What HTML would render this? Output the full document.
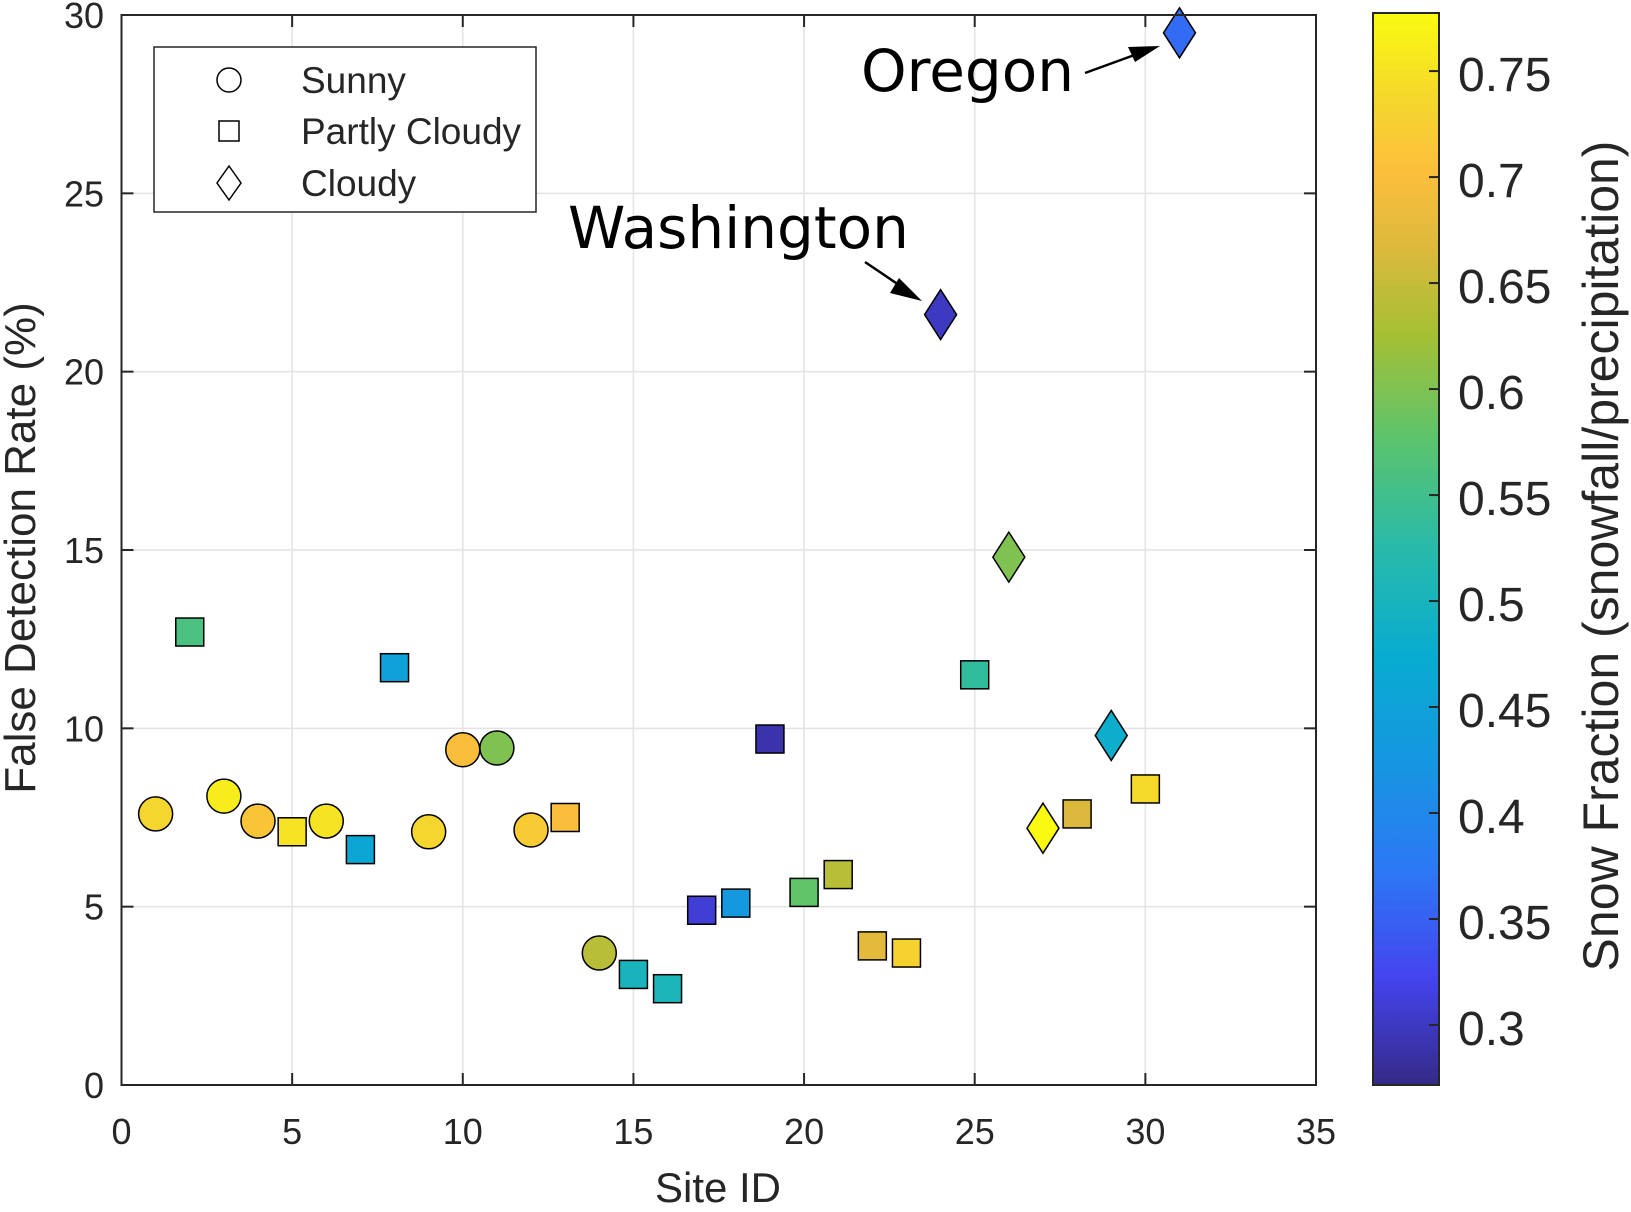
<!DOCTYPE html>
<html><head><meta charset="utf-8"><style>
body{margin:0;background:#fff}
svg text{font-family:"Liberation Sans",Arial,sans-serif;fill:#262626}
</style></head><body>
<svg id="chart" width="1631" height="1207" viewBox="0 0 1631 1207" xmlns="http://www.w3.org/2000/svg">
<defs>
<linearGradient id="parula" x1="0" y1="1" x2="0" y2="0"></linearGradient>
</defs>
<g id="grid"></g>
<g id="marks"></g>
<g id="axes"></g>
</svg>
<script>
const siteIds=[1,3,4,6,9,10,11,12,14, 2,5,7,8,13,15,16,17,18,19,20,21,22,23,25,28,30, 24,26,27,29,31];
const falseRates=[7.6,8.1,7.4,7.4,7.1,9.4,9.45,7.15,3.7, 12.7,7.1,6.6,11.7,7.5,3.1,2.7,4.9,5.1,9.7,5.4,5.9,3.9,3.7,11.5,7.6,8.3, 21.6,14.8,7.2,9.8,29.5];
const snowFractions=[0.735,0.76,0.71,0.75,0.735,0.70,0.60,0.72,0.64, 0.56,0.75,0.46,0.45,0.70,0.50,0.505,0.31,0.43,0.29,0.58,0.64,0.675,0.73,0.535,0.665,0.74, 0.30,0.60,0.775,0.48,0.36];
const conditions=["sunny","sunny","sunny","sunny","sunny","sunny","sunny","sunny","sunny","partly","partly","partly","partly","partly","partly","partly","partly","partly","partly","partly","partly","partly","partly","partly","partly","partly","cloudy","cloudy","cloudy","cloudy","cloudy"];
const xTicks=[0,5,10,15,20,25,30,35];
const yTicks=[0,5,10,15,20,25,30];
const cTicks=[0.3,0.35,0.4,0.45,0.5,0.55,0.6,0.65,0.7,0.75];

const NS="http://www.w3.org/2000/svg";
const X0=121.5,X1=1316,Y0=1085,Y1=15;
const xs=v=>X0+(v-0)/35*(X1-X0);
const ys=v=>Y0-(v-0)/30*(Y0-Y1);
const CB={x:1373,w:66,top:13,bot:1085,vmin:0.2717,vmax:0.7774};
const cy=v=>CB.bot-(v-CB.vmin)/(CB.vmax-CB.vmin)*(CB.bot-CB.top);
const par=[[0,[53,42,135]],[0.1,[68,68,238]],[0.2,[45,120,245]],[0.3,[22,150,225]],[0.4,[8,172,208]],[0.5,[40,186,170]],[0.6,[90,196,110]],[0.7,[165,192,52]],[0.78,[220,185,60]],[0.85,[252,190,60]],[0.92,[245,215,45]],[1,[249,251,15]]];
function color(v){let t=(v-CB.vmin)/(CB.vmax-CB.vmin);t=Math.max(0,Math.min(1,t));
for(let i=1;i<par.length;i++){if(t<=par[i][0]){const a=par[i-1],b=par[i],f=(t-a[0])/(b[0]-a[0]);
return 'rgb('+a[1].map((c,k)=>Math.round(c+(b[1][k]-c)*f)).join(',')+')';}}return 'rgb(249,251,15)';}
function el(tag,attrs,parent,text){const e=document.createElementNS(NS,tag);for(const k in attrs)e.setAttribute(k,attrs[k]);if(text!==undefined)e.textContent=text;parent.appendChild(e);return e;}
const grid=document.getElementById('grid'),marks=document.getElementById('marks'),axes=document.getElementById('axes');
const grad=document.getElementById('parula');
par.forEach(p=>el('stop',{offset:p[0],'stop-color':'rgb('+p[1].join(',')+')'},grad));

xTicks.forEach(t=>{
 if(t>0&&t<35){const g=el('line',{x1:xs(t),x2:xs(t),y1:Y1,y2:Y0,stroke:'#e3e3e3','stroke-width':1.5},grid);
 
 }
 el('line',{x1:xs(t),x2:xs(t),y1:Y0,y2:Y0-12,stroke:'#262626','stroke-width':2},axes);
 el('line',{x1:xs(t),x2:xs(t),y1:Y1,y2:Y1+12,stroke:'#262626','stroke-width':2},axes);
 const l=el('text',{x:xs(t),y:1144,'font-size':36,'text-anchor':'middle'},axes,String(t));
 
 
});
yTicks.forEach(t=>{
 if(t>0&&t<30){const g=el('line',{x1:X0,x2:X1,y1:ys(t),y2:ys(t),stroke:'#e3e3e3','stroke-width':1.5},grid);
 
 }
 el('line',{x1:X0,x2:X0+12,y1:ys(t),y2:ys(t),stroke:'#262626','stroke-width':2},axes);
 el('line',{x1:X1,x2:X1-12,y1:ys(t),y2:ys(t),stroke:'#262626','stroke-width':2},axes);
 const l=el('text',{x:104,y:ys(t)+13,'font-size':36,'text-anchor':'end'},axes,String(t));
 
 
});
const frame=el('rect',{x:X0,y:Y1,width:X1-X0,height:Y0-Y1,fill:'none',stroke:'#262626','stroke-width':2},axes);



function marker(kind,x,y,fill,parent){
 if(kind==='sunny')return el('circle',{cx:x,cy:y,r:17,fill:fill,stroke:'#000','stroke-width':1.5},parent);
 if(kind==='partly')return el('rect',{x:x-14,y:y-14,width:28,height:28,fill:fill,stroke:'#000','stroke-width':1.5},parent);
 return el('polygon',{points:`${x},${y-25} ${x+16},${y} ${x},${y+25} ${x-16},${y}`,fill:fill,stroke:'#000','stroke-width':1.5},parent);
}
siteIds.forEach((s,i)=>{
 const m=marker(conditions[i],xs(s),ys(falseRates[i]),color(snowFractions[i]),marks);
 
 
});

const cb=el('rect',{x:CB.x,y:CB.top,width:CB.w,height:CB.bot-CB.top,fill:'url(#parula)',stroke:'#262626','stroke-width':2},axes);


cTicks.forEach(t=>{
 el('line',{x1:CB.x+CB.w-10,x2:CB.x+CB.w,y1:cy(t),y2:cy(t),stroke:'#262626','stroke-width':2},axes);
 const l=el('text',{x:1458,y:cy(t)+20,'font-size':48},axes,String(t));
 
 
});
</script>
<svg style="position:absolute;left:0;top:0" width="1631" height="1207">
<text x="718" y="1202" font-size="42" text-anchor="middle" style="font-family:'Liberation Sans',sans-serif;fill:#262626">Site ID</text>
<text transform="translate(35,548) rotate(-90)" font-size="44" text-anchor="middle" style="font-family:'Liberation Sans',sans-serif;fill:#262626">False Detection Rate (%)</text>
<text transform="translate(1618,556) rotate(-90)" font-size="50" text-anchor="middle" style="font-family:'Liberation Sans',sans-serif;fill:#262626">Snow Fraction (snowfall/precipitation)</text>
<g>
<rect x="154" y="47" width="382" height="165" fill="#fff" stroke="#262626" stroke-width="1.5"/>
<circle cx="229" cy="80" r="12" fill="#fff" stroke="#000" stroke-width="1.5"/>
<rect x="219" y="121" width="20" height="20" fill="#fff" stroke="#000" stroke-width="1.5"/>
<polygon points="229,166 241,183 229,200 217,183" fill="#fff" stroke="#000" stroke-width="1.5"/>
<text x="301" y="93" font-size="37" style="font-family:'Liberation Sans',sans-serif">Sunny</text>
<text x="301" y="144" font-size="37" style="font-family:'Liberation Sans',sans-serif">Partly Cloudy</text>
<text x="301" y="196" font-size="37" style="font-family:'Liberation Sans',sans-serif">Cloudy</text>
</g>
<text x="861" y="91" font-size="58" style="font-family:'DejaVu Sans',sans-serif;fill:#000">Oregon</text>
<text x="568" y="248" font-size="58" style="font-family:'DejaVu Sans',sans-serif;fill:#000">Washington</text>
<g>
<line x1="1085" y1="73" x2="1140" y2="53" stroke="#000" stroke-width="2.5"/>
<polygon points="1160,46 1128,47 1135,62" fill="#000"/>
</g>
<g>
<line x1="865" y1="262" x2="905" y2="289" stroke="#000" stroke-width="2.5"/>
<polygon points="922,301 899,278 890,293" fill="#000"/>
</g>
</svg>
</body></html>
